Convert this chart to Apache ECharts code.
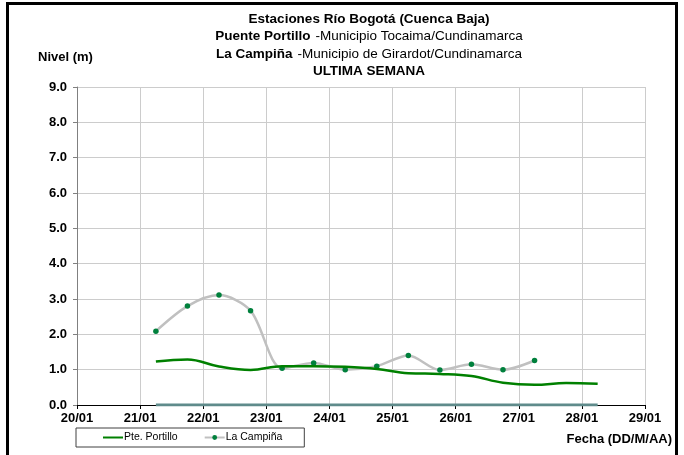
<!DOCTYPE html>
<html>
<head>
<meta charset="utf-8">
<script src="https://cdn.jsdelivr.net/npm/echarts@6/dist/echarts.min.js"></script>
<style>
  body { margin: 0; background: #fff; }
  #chart { position: absolute; left: 0; top: 0; width: 684px; height: 455px; }
  /* marco negro del gráfico original */
  .frame {
    position: absolute; left: 6px; top: 2px; width: 666px; height: 470px;
    border: 3px solid #000; pointer-events: none;
  }
</style>
</head>
<body>
<div id="chart"></div>
<div class="frame"></div>
<script>
// etiquetas de fecha del eje X (día 20 a 29 de enero)
const dateLabels = ['20/01', '21/01', '22/01', '23/01', '24/01', '25/01', '26/01', '27/01', '28/01', '29/01']

// tiempos de medición (día del mes, cada 12 h)
const times = [21.25, 21.75, 22.25, 22.75, 23.25, 23.75, 24.25, 24.75, 25.25, 25.75, 26.25, 26.75, 27.25, 27.75, 28.25]

// nivel (m) Pte. Portillo
const portillo = [1.23, 1.29, 1.09, 0.99, 1.10, 1.10, 1.08, 1.02, 0.90, 0.88, 0.82, 0.63, 0.57, 0.62, 0.60]

// nivel (m) La Campiña (sin datos después del 27/01)
const campina = [2.09, 2.80, 3.11, 2.67, 1.04, 1.19, 1.00, 1.10, 1.40, 0.99, 1.15, 1.00, 1.26]

// serie base en cero
const base = [0, 0, 0, 0, 0, 0, 0, 0, 0, 0, 0, 0, 0, 0, 0]

const pair = (xs, ys) => ys.map((y, i) => [xs[i], y])

const chart = echarts.init(document.getElementById('chart'))
const font = 'Liberation Sans, Arial, sans-serif'

const option = {
  animation: false,
  textStyle: { fontFamily: font },
  title: {
    left: 364,
    top: 6,
    textAlign: 'center',
    text: [
      '{b|Estaciones Río Bogotá (Cuenca Baja)}',
      '{b|Puente Portillo} {n|-Municipio Tocaima/Cundinamarca}',
      '{b|La Campiña} {n|-Municipio de Girardot/Cundinamarca}',
      '{b|ULTIMA SEMANA}'
    ].join('\n'),
    textStyle: {
      rich: {
        b: { fontFamily: font, fontSize: 13.5, fontWeight: 'bold', color: '#000', lineHeight: 16.3 },
        n: { fontFamily: font, fontSize: 13.5, fontWeight: 'normal', color: '#000', lineHeight: 16.3 }
      }
    }
  },
  legend: {
    left: 76,
    top: 428,
    orient: 'horizontal',
    data: [
      { name: 'Pte. Portillo', itemStyle: { opacity: 0 } },
      { name: 'La Campiña' }
    ],
    borderColor: '#404040',
    borderWidth: 1,
    borderRadius: 0,
    padding: [4, 22, 4, 26],
    itemWidth: 20,
    itemHeight: 6,
    itemGap: 26,
    textStyle: { fontFamily: font, fontSize: 10.5, color: '#000', padding: [0, 0, 0, -4] }
  },
  graphic: [
    {
      type: 'text', left: 38, top: 51,
      style: { text: 'Nivel (m)', font: 'bold 13px ' + font, fill: '#000' }
    },
    {
      type: 'text', right: 12, top: 433,
      style: { text: 'Fecha (DD/M/AA)', font: 'bold 13px ' + font, fill: '#000' }
    }
  ],
  grid: { left: 77, right: 39, top: 87, bottom: 50 },
  xAxis: {
    type: 'value',
    min: 20,
    max: 29,
    interval: 1,
    axisLine: { show: true, onZero: false, lineStyle: { color: '#000', width: 1 } },
    axisTick: { show: true, length: 4, lineStyle: { color: '#000' } },
    axisLabel: {
      formatter: (v) => dateLabels[v - 20],
      fontFamily: font, fontSize: 13, fontWeight: 'bold', color: '#000', margin: 7
    },
    splitLine: { show: true, lineStyle: { color: '#cccccc', width: 1 } }
  },
  yAxis: {
    type: 'value',
    min: 0,
    max: 9,
    interval: 1,
    axisLine: { show: true, lineStyle: { color: '#808080', width: 1 } },
    axisTick: { show: true, length: 4, lineStyle: { color: '#808080' } },
    axisLabel: {
      formatter: (v) => v.toFixed(1),
      fontFamily: font, fontSize: 13, fontWeight: 'bold', color: '#000', margin: 10
    },
    splitLine: { show: true, lineStyle: { color: '#cccccc', width: 1 } }
  },
  series: [
    {
      name: 'base',
      type: 'line',
      data: pair(times, base),
      showSymbol: false,
      lineStyle: { color: '#5f8b8b', width: 3 },
      itemStyle: { color: '#5f8b8b' },
      z: 1
    },
    {
      name: 'Pte. Portillo',
      type: 'line',
      smooth: 0.4,
      data: pair(times, portillo),
      showSymbol: false,
      symbol: 'none',
      lineStyle: { color: '#008000', width: 2.5 },
      itemStyle: { color: '#008000' },
      z: 3
    },
    {
      name: 'La Campiña',
      type: 'line',
      smooth: 0.3,
      data: pair(times, campina),
      symbol: 'circle',
      symbolSize: 5.5,
      lineStyle: { color: '#c0c0c0', width: 2.5 },
      itemStyle: { color: '#00803c' },
      z: 2
    }
  ]
}

chart.setOption(option)
</script>
</body>
</html>
